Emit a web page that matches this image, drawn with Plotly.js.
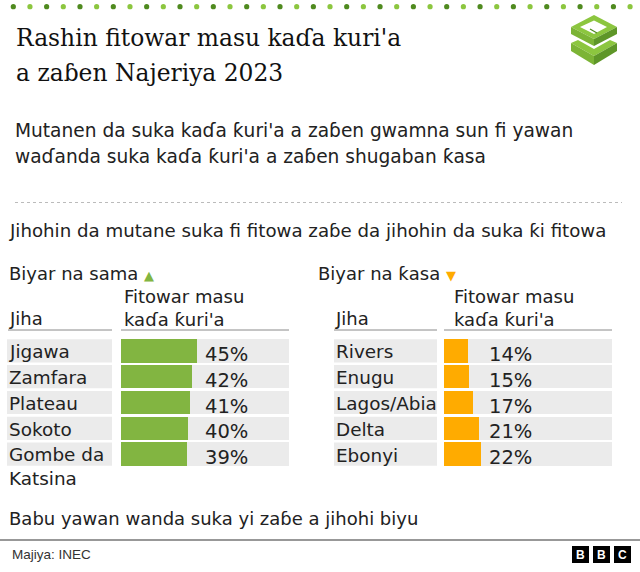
<!DOCTYPE html>
<html>
<head>
<meta charset="utf-8">
<script src="https://cdn.plot.ly/plotly-3.0.1.min.js"></script>
<style>html,body{margin:0;padding:0;background:#fff}#chart{width:640px;height:572px}</style>
</head>
<body>
<div id="chart"></div>
<script>
// ---- data ----
const topStates = ["Jigawa", "Zamfara", "Plateau", "Sokoto", "Gombe da<br>Katsina"];
const topValues = [45, 42, 41, 40, 39];
const bottomStates = ["Rivers", "Enugu", "Lagos/Abia", "Delta", "Ebonyi"];
const bottomValues = [14, 15, 17, 21, 22];
const fullScale = [100, 100, 100, 100, 100];

const W = 640, H = 572;
const px = v => v / W;
const py = v => 1 - v / H;
const FONT = "DejaVu Sans, sans-serif";
const GREEN = "#82b541", ORANGE = "#ffab00", GREY = "#ebebeb", TXT = "#222222";
const rowIdx = topStates.map((_, i) => i);

const traces = [
  {type: "bar", orientation: "h", x: fullScale, y: rowIdx, xaxis: "x", yaxis: "y",
   marker: {color: GREY}, width: 0.9, hoverinfo: "skip"},
  {type: "bar", orientation: "h", x: topValues, y: rowIdx, xaxis: "x", yaxis: "y",
   marker: {color: GREEN}, width: 0.9, hoverinfo: "x"},
  {type: "bar", orientation: "h", x: fullScale, y: rowIdx, xaxis: "x2", yaxis: "y2",
   marker: {color: GREY}, width: 0.9, hoverinfo: "skip"},
  {type: "bar", orientation: "h", x: bottomValues, y: rowIdx, xaxis: "x2", yaxis: "y2",
   marker: {color: ORANGE}, width: 0.9, hoverinfo: "x"}
];

const yDomain = [py(467), py(338)];
const annotations = [];
const shapes = [];

function txt(text, x, y, size, opts) {
  annotations.push(Object.assign({text: text, x: px(x), y: py(y), xref: "paper", yref: "paper",
    xanchor: "left", yanchor: "middle", showarrow: false, align: "left",
    font: {family: FONT, size: size, color: TXT}}, opts || {}));
}

// title
const serif = {family: "DejaVu Serif, serif", size: 23.4, color: "#111"};
txt("Rashin fitowar masu kaɗa kuri'a", 14, 38, 23.4, {font: serif});
txt("a zaɓen Najeriya 2023", 14, 73, 23.4, {font: serif});
// subtitle
txt("Mutanen da suka kaɗa ƙuri'a a zaɓen gwamna sun fi yawan", 13, 131, 18.6);
txt("waɗanda suka kaɗa ƙuri'a a zaɓen shugaban ƙasa", 13, 156, 18.6);
txt("Jihohin da mutane suka fi fitowa zaɓe da jihohin da suka ƙi fitowa", 7, 230, 18.2);
// panel headings
txt("Biyar na sama <span style='color:" + GREEN + ";font-size:13px'>▲</span>", 7, 273, 18);
txt("Biyar na ƙasa <span style='color:" + ORANGE + ";font-size:13px'>▼</span>", 316, 273, 18);
txt("Jiha", 7, 318, 18);
txt("Fitowar masu", 122, 296, 18);
txt("kaɗa ƙuri'a", 122, 319, 18);
txt("Jiha", 333, 318, 18);
txt("Fitowar masu", 452, 296, 18);
txt("kaɗa ƙuri'a", 452, 319, 18);
// footer
txt("Babu yawan wanda suka yi zaɓe a jihohi biyu", 7, 518, 18);
txt("Majiya: INEC", 10, 554, 13, {font: {family: "Liberation Sans Narrow, Liberation Sans, sans-serif", size: 13.5, color: "#333"}});

// row labels + label backgrounds + value labels
function panel(states, values, xref, yref, labelX0, labelX1) {
  const maxV = Math.max.apply(null, values);
  states.forEach((s, i) => {
    shapes.push({type: "rect", xref: "paper", yref: yref, x0: px(labelX0), x1: px(labelX1),
      y0: i - 0.45, y1: i + 0.45, fillcolor: GREY, line: {width: 0}, layer: "below"});
    const multi = s.indexOf("<br>") >= 0;
    annotations.push({text: s, xref: "paper", yref: yref, x: px(labelX0), y: i,
      xanchor: "left", yanchor: multi ? "top" : "middle", yshift: multi ? 12.5 : -1,
      showarrow: false, align: "left", font: {family: FONT, size: 18.4, color: TXT}});
    annotations.push({text: values[i] + "%", xref: xref, yref: yref, x: maxV + 3.8, y: i,
      xanchor: "left", yanchor: "middle", yshift: -3.5, showarrow: false,
      font: {family: FONT, size: 19.5, color: TXT}});
  });
}
panel(topStates, topValues, "x", "y", 7, 112);
panel(bottomStates, bottomValues, "x2", "y2", 334, 437);

// header underlines
[[8, 112], [121, 289], [334, 437], [444, 612]].forEach(p => {
  shapes.push({type: "line", xref: "paper", yref: "paper", x0: px(p[0]), x1: px(p[1]),
    y0: py(330), y1: py(330), line: {color: "#8a8a8a", width: 1}});
});
// dotted separator
shapes.push({type: "line", xref: "paper", yref: "paper", x0: px(15), x1: px(622),
  y0: py(202.5), y1: py(202.5), line: {color: "#bbbbbb", width: 1, dash: "dot"}});
// footer rule
shapes.push({type: "line", xref: "paper", yref: "paper", x0: 0, x1: 1,
  y0: py(540), y1: py(540), line: {color: "#333333", width: 1.2}});
// top dotted strip
for (let k = 0; k < 38; k++) {
  const cx = 13.3 + k * 16.67;
  shapes.push({type: "circle", xref: "paper", yref: "paper",
    x0: px(cx - 2.6), x1: px(cx + 2.6), y0: py(9.3), y1: py(4.1),
    fillcolor: k % 2 ? "#8cc63f" : "#4f8a1f", line: {width: 0}});
}
// ballot-box icon
function pth(pts) {
  return "M" + pts.map(p => px(p[0]) + "," + py(p[1])).join(" L") + " Z";
}
function poly(pts, color) {
  shapes.push({type: "path", xref: "paper", yref: "paper", path: pth(pts), fillcolor: color, line: {width: 0}});
}
// lower chevron
poly([[571,43],[578,40],[594,49],[610,40],[617,43],[594,56]], "#8cc63f");
poly([[571,43],[594,56],[594,65],[571,51]], "#7cb436");
poly([[594,56],[617,43],[617,51],[594,65]], "#5e9628");
// upper box
poly([[594,15],[617,27],[594,39],[571,27]], "#8cc63f");
poly([[594,20.5],[607,27],[594,34],[580,27]], "#ffffff");
poly([[571,27],[594,39],[594,46],[571,34]], "#7cb436");
poly([[594,39],[617,27],[617,34],[594,46]], "#5e9628");
shapes.push({type: "line", xref: "paper", yref: "paper", x0: px(590), x1: px(597), y0: py(29), y1: py(33), line: {color: "#4f8a1f", width: 1.2}});
// BBC blocks
["B", "B", "C"].forEach((l, k) => {
  const x0 = 572 + k * 21;
  shapes.push({type: "rect", xref: "paper", yref: "paper", x0: px(x0), x1: px(x0 + 17),
    y0: py(563), y1: py(546), fillcolor: "#000", line: {width: 0}});
  annotations.push({text: "<b>" + l + "</b>", xref: "paper", yref: "paper", x: px(x0 + 8.5), y: py(554.5),
    xanchor: "center", yanchor: "middle", showarrow: false,
    font: {family: "Liberation Sans, sans-serif", size: 12, color: "#fff"}});
});

const axisX = d => ({domain: d, range: [0, 100], visible: false, fixedrange: true});
const axisY = a => ({domain: yDomain, range: [4.5, -0.5], visible: false, anchor: a, fixedrange: true});

const layout = {
  width: W, height: H, margin: {l: 0, r: 0, t: 0, b: 0},
  paper_bgcolor: "#fff", plot_bgcolor: "rgba(0,0,0,0)",
  showlegend: false, barmode: "overlay", bargap: 0,
  xaxis: Object.assign(axisX([px(121), px(289)]), {anchor: "y"}),
  yaxis: axisY("x"),
  xaxis2: Object.assign(axisX([px(444), px(612)]), {anchor: "y2"}),
  yaxis2: axisY("x2"),
  annotations: annotations, shapes: shapes
};
Plotly.newPlot("chart", traces, layout, {displayModeBar: false, staticPlot: true});
</script>
</body>
</html>
